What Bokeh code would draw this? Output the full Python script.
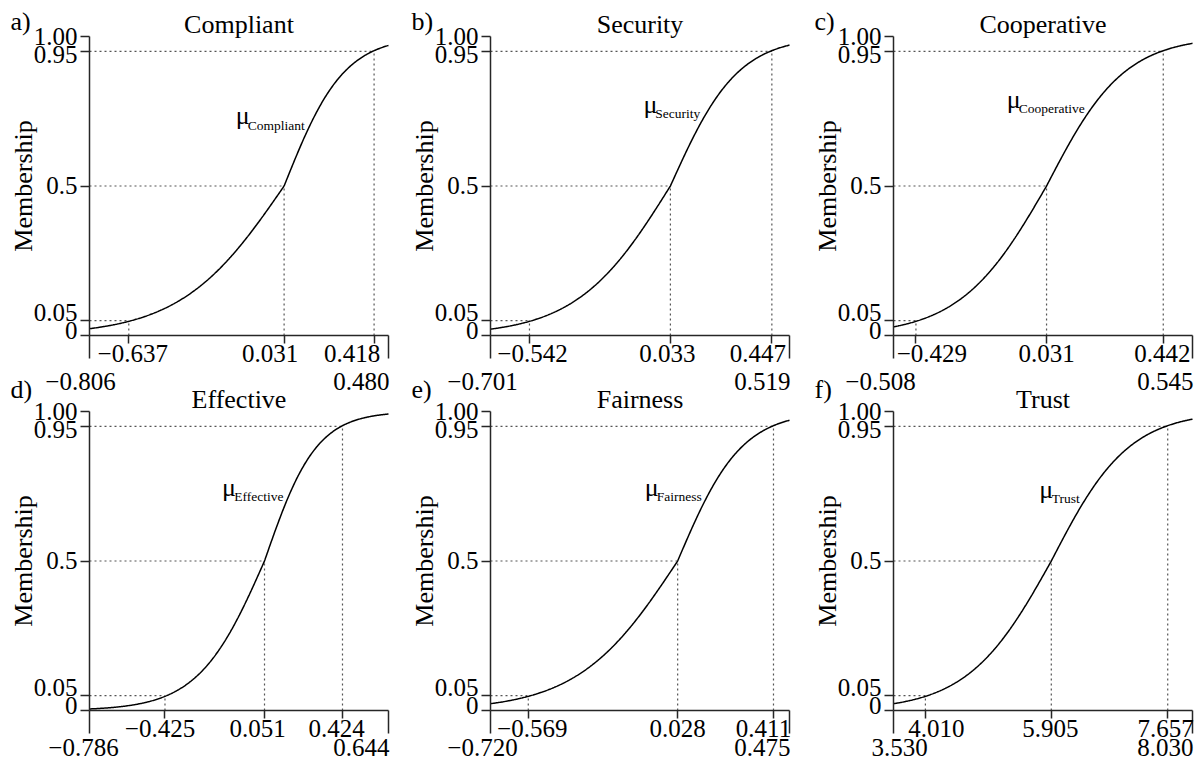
import numpy as np
from bokeh.plotting import figure
from bokeh.models import LinearAxis, FixedTicker, Range1d, Label
from bokeh.embed import file_html
from bokeh.resources import INLINE

# ---------------- data ----------------
PANEL_TAGS = ["a)", "b)", "c)", "d)", "e)", "f)"]
TITLES = ["Compliant", "Security", "Cooperative", "Effective", "Fairness", "Trust"]
X_MIN = [-0.806, -0.701, -0.508, -0.786, -0.720, 3.530]
X_MAX = [0.480, 0.519, 0.545, 0.644, 0.475, 8.030]
FULL_NON = [-0.637, -0.542, -0.429, -0.425, -0.569, 4.010]
CROSSOVER = [0.031, 0.033, 0.031, 0.051, 0.028, 5.905]
FULL_MEM = [0.418, 0.447, 0.442, 0.424, 0.411, 7.657]
LEVELS = [0.05, 0.5, 0.95]
Y_TICKS = [0, 0.05, 0.5, 0.95, 1.0]
Y_TICK_LABELS = ["0", "0.05", "0.5", "0.95", "1.00"]
Y_LABEL = "Membership"

# ---------------- style / layout ----------------
FONT = "Liberation Serif"
AX = "#262626"
DOT = "#555555"
CANVAS_W, CANVAS_H = 1199, 762
COL_LEFT = [89, 490, 893]      # left edge of each panel's data area, px
ROW_TOP = [36, 411]            # top edge (membership 1) of each row, px
PLOT_PX = 299                  # size of a panel's data area, px
TAG_RISE = [6, 13]             # panel-letter baseline above the data top, px
END_CAP_DROP = [38, 29]        # cap top of the end-of-range labels below the axis, px
THR_CAP_DROP = 10              # cap top of the threshold labels below the axis, px
# horizontal nudges (px) of tick labels, as placed in the original figure
THR_NUDGE = [[4, -14, -22], [3, -3, -14], [16, 0, -1],
             [-5, -7, -6], [4, 0, -10], [11, -1, -2]]
MIN_NUDGE = [-9, -8, -13, -6, -8, 6]
Y_NUDGE_UP = [5, 7.5, 0, -3.5, 0]   # vertical nudges of the y tick labels
LABEL_LEVEL = [0.687, 0.726, 0.742, 0.700, 0.700, 0.692]  # height of the mu-labels
LABEL_SHIFT = 0.35             # Label baseline correction, fraction of font size
W = dict(C=667, o=500, m=778, p=500, l=278, i=278, a=444, n=500, t=278, S=556,
         e=444, c=444, u=500, r=333, y=500, v=500, E=611, f=333, F=556, s=389, T=611)
SUB_PX = 13.5
TICK_PX = 25
BIG_PX = 26
CAP = 0.662 * TICK_PX


def tick_text(v):
    return f"{v:.3f}".replace("-", "\u2212")


def calibrate(x, fn, c, fm):
    # direct (log-odds) calibration: log-odds +3 at full membership, -3 at full non-membership
    x = np.asarray(x, dtype=float)
    lo = np.where(x >= c, 3.0 * (x - c) / (fm - c), 3.0 * (x - c) / (c - fn))
    return 1.0 / (1.0 + np.exp(-lo))


def inverse(m, fn, c, fm):
    lo = np.log(m / (1 - m))
    return c + lo / 3.0 * ((fm - c) if lo >= 0 else (c - fn))


def style_axis(ax, tick_out):
    ax.major_tick_out = tick_out
    ax.major_tick_in = 0
    ax.minor_tick_out = 0
    ax.minor_tick_in = 0
    ax.major_tick_line_color = AX
    ax.major_tick_line_width = 1.5
    ax.axis_line_color = AX
    ax.axis_line_width = 1.5
    ax.major_label_text_font = FONT
    ax.major_label_text_font_size = f"{TICK_PX}px"
    ax.major_label_text_color = "black"
    ax.major_label_standoff = 2


uy = 1.0 / PLOT_PX
x_ranges, y_ranges = {}, {}
for i in range(6):
    col = i % 3
    ux = (X_MAX[i] - X_MIN[i]) / PLOT_PX
    start = X_MIN[i] - COL_LEFT[col] * ux
    x_ranges[f"x{i}"] = Range1d(start, start + CANVAS_W * ux)
for r in range(2):
    y_ranges[f"r{r}"] = Range1d(1.0 - (CANVAS_H - ROW_TOP[r]) * uy, 1.0 + ROW_TOP[r] * uy)

p = figure(frame_width=CANVAS_W, frame_height=CANVAS_H,
           x_range=Range1d(0, 1), y_range=Range1d(0, 1),
           extra_x_ranges=x_ranges, extra_y_ranges=y_ranges,
           x_axis_type=None, y_axis_type=None, title=None,
           toolbar_location=None, output_backend="svg",
           min_border=0, outline_line_color=None,
           background_fill_color="white", border_fill_color="white")

for i in range(6):
    row, col = divmod(i, 3)
    xr, yr = f"x{i}", f"r{row}"
    xmin, xmax = X_MIN[i], X_MAX[i]
    fn, c, fm = FULL_NON[i], CROSSOVER[i], FULL_MEM[i]
    ux = (xmax - xmin) / PLOT_PX

    def txt(x, y_px_above, y_base, text, size, align, x_offset=0):
        # y_px_above: wanted baseline, in px above the data value y_base
        y = y_base + (y_px_above + LABEL_SHIFT * size) * uy
        return Label(x=x, y=y, x_offset=x_offset, text=text, text_font=FONT,
                     text_font_size=f"{size}px", text_color="black",
                     text_align=align, text_baseline="alphabetic",
                     x_range_name=xr, y_range_name=yr)

    # y axis at x = xmin (ticks); its tick labels are placed individually below
    yax = LinearAxis(ticker=FixedTicker(ticks=Y_TICKS), fixed_location=xmin, bounds=(0, 1),
                     major_label_overrides={t: "" for t in Y_TICKS},
                     axis_label=Y_LABEL, x_range_name=xr, y_range_name=yr)
    style_axis(yax, 9)
    yax.axis_label_text_font = FONT
    yax.axis_label_text_font_size = f"{BIG_PX}px"
    yax.axis_label_text_font_style = "normal"
    yax.axis_label_text_color = "black"
    yax.axis_label_standoff = 43
    p.add_layout(yax, "left")
    for t, s, nud in zip(Y_TICKS, Y_TICK_LABELS, Y_NUDGE_UP):
        p.add_layout(txt(xmin, nud - CAP / 2, t, s, TICK_PX, "right", x_offset=-12))

    # x axis at membership 0: threshold ticks
    thr = [fn, c, fm]
    xa = LinearAxis(ticker=FixedTicker(ticks=thr), fixed_location=0, bounds=(xmin, xmax),
                    major_label_overrides={t: "" for t in thr},
                    x_range_name=xr, y_range_name=yr)
    style_axis(xa, 8)
    p.add_layout(xa, "below")
    for t, nud in zip(thr, THR_NUDGE[i]):
        p.add_layout(txt(t, -(THR_CAP_DROP + CAP), 0.0, tick_text(t), TICK_PX, "center",
                         x_offset=nud))

    # range ends: long ticks, labels on a second row
    xb = LinearAxis(ticker=FixedTicker(ticks=[xmin, xmax]), fixed_location=0,
                    bounds=(xmin, xmax),
                    major_label_overrides={xmin: "", xmax: ""},
                    x_range_name=xr, y_range_name=yr)
    style_axis(xb, 23)
    xb.axis_line_color = None
    p.add_layout(xb, "below")
    drop = -(END_CAP_DROP[row] + CAP)
    p.add_layout(txt(xmin, drop, 0.0, tick_text(xmin), TICK_PX, "center",
                     x_offset=MIN_NUDGE[i]))
    p.add_layout(txt(xmax, drop, 0.0, tick_text(xmax), TICK_PX, "right", x_offset=1))

    # dotted guides
    p.segment(x0=[xmin] * 3, y0=LEVELS, x1=thr, y1=LEVELS,
              line_color=DOT, line_width=1.2, line_dash="2 3",
              x_range_name=xr, y_range_name=yr)
    p.segment(x0=thr, y0=[0] * 3, x1=thr, y1=LEVELS,
              line_color=DOT, line_width=1.2, line_dash="2 3",
              x_range_name=xr, y_range_name=yr)

    # membership curve
    xs = np.linspace(xmin, xmax, 400)
    p.line(xs, calibrate(xs, fn, c, fm), line_color="black", line_width=1.5,
           x_range_name=xr, y_range_name=yr)

    # panel letter and title
    p.add_layout(txt(xmin - 79 * ux, TAG_RISE[row], 1.0, PANEL_TAGS[i], BIG_PX, "left"))
    p.add_layout(txt((xmin + xmax) / 2, 3, 1.0, TITLES[i], BIG_PX, "center"))

    # mu label beside the curve
    m = LABEL_LEVEL[i]
    xl = inverse(m, fn, c, fm)
    sub_w = sum(W[ch] for ch in TITLES[i]) * SUB_PX / 1000.0
    p.add_layout(txt(xl, 0, m, TITLES[i], SUB_PX, "right", x_offset=-3))
    p.add_layout(txt(xl, 5, m, "\u03bc", BIG_PX, "right", x_offset=-1 - sub_w))

open("out.html", "w").write(file_html(p, INLINE))
